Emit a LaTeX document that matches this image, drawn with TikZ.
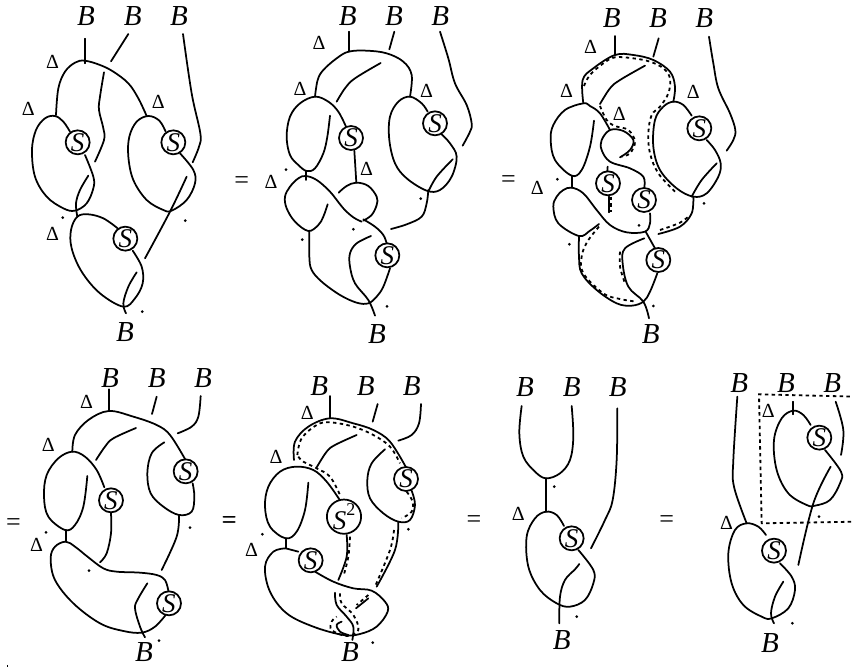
\documentclass[tikz,border=0pt]{standalone}
\usepackage{fontspec}
\setmainfont{Liberation Serif}
\tikzset{
  strandline/.style={line width=1.75pt,line cap=round,line join=round,black},
  dashline/.style={line width=1.8pt,dash pattern=on 3.4pt off 3.4pt,black},
  blab/.style={inner sep=0pt,font=\fontsize{29}{29}\selectfont\itshape},
  dlab/.style={inner sep=0pt,font=\fontsize{20}{20}\selectfont},
  eqlab/.style={inner sep=0pt,font=\fontsize{26}{26}\selectfont},
  antip/.style={circle,draw,line width=1.75pt,fill=white,inner sep=0pt,minimum size=24pt,font=\fontsize{27}{27}\selectfont\itshape},
  dotmark/.style={circle,fill=black,inner sep=0pt,minimum size=3pt},
  panel/.style={x=0.33333pt,y=-0.33333pt}
}
\newcommand\strand[1]{\draw[strandline] plot[smooth,tension=0.6] coordinates {#1};}
\newcommand\dstrand[1]{\draw[dashline] plot[smooth,tension=0.6] coordinates {#1};}
\begin{document}
\begin{tikzpicture}[x=1pt,y=-1pt]
\useasboundingbox (0,0) rectangle (853,668);
% panel 1
\begin{scope}[panel]
\draw[strandline] (254,116) -- (254,190);
\draw[strandline] (385,102) -- (333,184);
\strand{(549,102)(575,280)(601,400)(597,440)(578,487)}
\strand{(168,345)(175,265)(195,215)(225,188)(254,182)(300,195)(340,215)(385,250)(415,295)(440,348)}
\strand{(312,217)(300,290)(297,330)(310,385)(312,420)(285,485)}
\strand{(210,395)(190,365)(165,348)(135,355)(108,390)(96,450)(105,530)(140,590)(190,625)(225,632)(260,610)(280,565)(280,530)(255,465)}
\strand{(265,527)(240,570)(228,610)(232,650)}
\strand{(497,395)(478,362)(445,348)(410,365)(388,410)(385,470)(400,540)(440,600)(490,630)(515,632)(560,600)(585,550)(580,510)(540,460)}
\strand{(560,530)(510,635)(435,775)}
\strand{(353,685)(310,655)(265,643)(232,650)(213,690)(215,745)(245,815)(300,880)(370,920)(405,895)(428,850)(425,800)(398,752)}
\strand{(410,817)(385,860)(370,910)(378,940)}
\node[antip] (a1) at (233,427) {S};
\node[antip] (a2) at (520,427) {S};
\node[antip] (a3) at (376,716) {S};
\node[blab] (a4) at (258,47) {B};
\node[blab] (a5) at (398,47) {B};
\node[blab] (a6) at (537,47) {B};
\node[blab] (a7) at (375,997) {B};
\node[dlab] (a8) at (158,185) {Δ};
\node[dlab] (a9) at (85,327) {Δ};
\node[dlab] (a10) at (475,307) {Δ};
\node[dlab] (a11) at (158,703) {Δ};
\node[dotmark] (a12) at (188,653) {};
\node[dotmark] (a13) at (556,662) {};
\node[dotmark] (a14) at (427,935) {};
\end{scope}
% panel 2
\begin{scope}[panel,shift={(720,0)}]
\draw[strandline] (326,95) -- (326,155);
\draw[strandline] (463,95) -- (448,148);
\strand{(600,95)(625,175)(645,250)(680,315)(695,370)(690,395)(668,437)}
\strand{(225,290)(233,240)(250,210)(290,175)(326,155)(380,152)(440,160)(490,185)(515,225)(510,290)}
\strand{(422,189)(345,235)(315,265)(290,305)}
\strand{(318,380)(295,335)(265,305)(225,290)(180,310)(150,350)(140,410)(150,465)(175,495)(200,513)(225,505)(250,460)(262,410)(270,347)}
\draw[strandline] (197,513) -- (197,540);
\draw[strandline] (343,452) -- (349,548);
\strand{(263,613)(250,650)(235,675)(205,693)(165,665)(140,625)(135,590)(150,560)(175,535)(197,528)(230,540)(270,575)(310,625)(340,652)(365,665)}
\strand{(296,578)(320,558)(349,548)(385,558)(410,590)(410,615)(395,645)(370,662)}
\strand{(370,658)(405,680)(430,705)(440,730)}
\strand{(450,805)(430,860)(410,890)(385,910)(350,908)(300,885)(245,845)(215,810)(208,770)(208,693)}
\strand{(393,708)(350,730)(330,760)(330,800)(345,850)(385,900)(405,947)}
\strand{(453,687)(500,673)(545,650)(560,610)(565,570)}
\strand{(563,335)(545,310)(510,290)(475,305)(450,350)(448,420)(465,490)(500,535)(560,572)(600,570)(635,530)(650,470)(630,430)(605,403)}
\strand{(638,478)(590,530)(565,575)}
\node[antip] (b1) at (333,414) {S};
\node[antip] (b2) at (442,766) {S};
\node[antip] (b3) at (585,370) {S};
\node[blab] (b4) at (323,47) {B};
\node[blab] (b5) at (462,47) {B};
\node[blab] (b6) at (601,47) {B};
\node[blab] (b7) at (411,1003) {B};
\node[dlab] (b8) at (237,128) {Δ};
\node[dlab] (b9) at (180,268) {Δ};
\node[dlab] (b10) at (560,272) {Δ};
\node[dlab] (b11) at (380,508) {Δ};
\node[dlab] (b12) at (93,547) {Δ};
\node[dotmark] (b13) at (138,509) {};
\node[dotmark] (b14) at (187,719) {};
\node[dotmark] (b15) at (340,688) {};
\node[dotmark] (b16) at (542,596) {};
\node[dotmark] (b17) at (441,919) {};
\node[eqlab] (b18) at (5,547) {=};
\end{scope}
% panel 3
\begin{scope}[panel,shift={(1500,0)}]
\draw[strandline] (345,108) -- (345,165);
\draw[strandline] (476,115) -- (460,170);
\strand{(627,110)(640,190)(655,265)(690,340)(706,390)(700,420)(680,452)}
\strand{(250,310)(248,240)(280,205)(345,165)(400,165)(460,180)(510,215)(525,260)(520,305)}
\strand{(435,197)(360,240)(330,265)(300,312)}
\strand{(330,390)(300,340)(270,318)(250,310)(195,330)(160,375)(152,420)(165,480)(215,527)(245,510)(270,440)(282,362)}
\draw[strandline] (215,527) -- (215,563);
\strand{(297,672)(270,692)(237,708)(175,670)(160,620)(170,590)(190,570)(215,563)(250,580)(290,630)(330,675)(380,697)(435,695)(450,670)(450,640)}
\strand{(433,562)(430,530)(390,505)(330,485)(305,450)(305,420)(330,390)(370,393)(400,420)(390,450)(360,472)}
\draw[strandline] (323,500) -- (322,512);
\draw[strandline] (327,590) -- (327,637);
\draw[strandline] (437,695) -- (465,745);
\strand{(472,820)(450,875)(430,905)(395,917)(350,910)(290,870)(245,820)(237,770)(237,708)}
\strand{(433,715)(375,745)(368,790)(385,860)(430,905)(447,955)}
\strand{(475,702)(540,680)(575,640)(580,590)}
\strand{(575,347)(550,315)(520,305)(490,320)(465,360)(460,440)(480,510)(530,565)(580,590)(620,580)(655,530)(662,490)(645,450)(620,420)}
\strand{(650,490)(605,540)(575,590)}
\dstrand{(252,258)(270,225)(310,190)(345,172)(400,175)(450,185)(490,205)(510,235)(505,280)(480,320)(455,345)(445,400)(450,460)(475,520)(525,575)}
\dstrand{(300,318)(320,360)(345,378)(385,390)(405,425)(390,460)(365,470)}
\dstrand{(297,680)(262,725)(245,770)(250,820)(310,880)(360,897)(410,905)}
\dstrand{(360,755)(360,800)(375,850)}
\dstrand{(480,690)(540,668)(570,645)}
\draw[dashline] (333,590) -- (333,637);
\node[antip] (c1) at (324,550) {S};
\node[antip] (c2) at (432,600) {S};
\node[antip] (c3) at (475,780) {S};
\node[antip] (c4) at (598,385) {S};
\node[blab] (c5) at (335,55) {B};
\node[blab] (c6) at (474,55) {B};
\node[blab] (c7) at (613,55) {B};
\node[blab] (c8) at (452,1003) {B};
\node[dlab] (c9) at (272,142) {Δ};
\node[dlab] (c10) at (200,272) {Δ};
\node[dlab] (c11) at (358,343) {Δ};
\node[dlab] (c12) at (580,277) {Δ};
\node[dlab] (c13) at (112,565) {Δ};
\node[dotmark] (c14) at (172,538) {};
\node[dotmark] (c15) at (208,733) {};
\node[dotmark] (c16) at (417,676) {};
\node[dotmark] (c17) at (612,610) {};
\node[dotmark] (c18) at (460,918) {};
\node[eqlab] (c19) at (25,545) {=};
\end{scope}
% panel 4
\begin{scope}[panel,shift={(0,1050)}]
\draw[strandline] (326,118) -- (326,183);
\draw[strandline] (470,140) -- (456,192);
\strand{(602,138)(595,200)(575,230)(533,250)}
\strand{(217,305)(225,255)(265,210)(326,183)(400,200)(470,225)(510,255)(555,327)}
\strand{(408,234)(340,265)(315,290)(288,330)}
\strand{(313,412)(290,360)(255,320)(217,305)(175,325)(140,375)(132,440)(145,500)(195,540)(225,525)(250,470)(262,378)}
\draw[strandline] (197,540) -- (197,575);
\strand{(333,490)(333,550)(320,610)(300,637)}
\strand{(505,722)(495,690)(470,675)(420,668)(350,665)(310,655)(265,622)(225,590)(197,575)(165,590)(152,625)(165,690)(220,760)(300,820)(370,843)(425,848)(465,830)(497,795)}
\strand{(442,700)(415,745)(405,775)(420,830)(435,862)}
\strand{(578,400)(583,440)(575,485)(537,495)(490,470)(452,430)(442,370)(455,310)(493,277)}
\strand{(537,495)(530,560)(485,660)}
\draw[line width=0.7pt] (22,945) -- (22,952);
\node[antip] (d1) at (557,364) {S};
\node[antip] (d2) at (333,451) {S};
\node[antip] (d3) at (507,760) {S};
\node[blab] (d4) at (330,85) {B};
\node[blab] (d5) at (470,85) {B};
\node[blab] (d6) at (609,85) {B};
\node[blab] (d7) at (432,905) {B};
\node[dlab] (d8) at (260,155) {Δ};
\node[dlab] (d9) at (145,285) {Δ};
\node[dlab] (d10) at (110,585) {Δ};
\node[dotmark] (d11) at (138,547) {};
\node[dotmark] (d12) at (267,662) {};
\node[dotmark] (d13) at (570,533) {};
\node[dotmark] (d14) at (477,872) {};
\node[eqlab] (d15) at (40,525) {=};
\node[eqlab] (d16) at (687,518) {=};
\end{scope}
% panel 5
\begin{scope}[panel,shift={(660,1080)}]
\draw[strandline] (330,108) -- (330,175);
\draw[strandline] (473,132) -- (458,185);
\strand{(603,132)(597,190)(575,225)(535,242)}
\strand{(222,300)(225,245)(265,200)(330,175)(400,190)(460,210)(510,245)(557,320)}
\strand{(410,225)(345,255)(320,275)(290,322)}
\strand{(358,418)(320,365)(280,330)(228,320)(180,335)(145,380)(135,440)(150,500)(197,535)(230,515)(255,450)(265,368)}
\draw[strandline] (197,535) -- (197,565);
\draw[strandline] (197,565) -- (235,575);
\strand{(197,565)(160,575)(135,620)(150,695)(200,760)(280,800)(370,825)(420,822)(470,800)(503,755)(495,725)(455,692)(400,685)(340,665)(285,635)}
\strand{(380,525)(380,590)(355,660)}
\strand{(345,698)(350,735)(380,770)(400,800)(397,840)}
\strand{(365,785)(350,795)(360,815)(385,825)}
\draw[strandline] (445,715) -- (408,745);
\strand{(575,392)(585,435)(570,480)(535,485)(490,460)(450,415)(442,360)(455,310)(495,268)}
\strand{(535,485)(525,570)(470,680)}
\dstrand{(232,285)(245,235)(290,195)(330,187)(400,200)(460,225)(510,260)(540,310)}
\dstrand{(235,290)(250,305)(290,325)(330,350)(360,405)}
\dstrand{(560,395)(578,425)(575,455)(545,475)}
\dstrand{(390,530)(385,590)(370,650)}
\dstrand{(522,510)(510,570)(465,680)}
\dstrand{(445,705)(410,735)}
\dstrand{(360,700)(365,730)(400,765)(415,810)(380,828)(335,810)(335,785)(350,770)}
\node[antip] (e1) at (558,357) {S};
\node[antip,minimum size=33pt] (e2) at (372,470) {S\raisebox{1.1ex}{\upshape\fontsize{18}{18}\selectfont 2}};
\node[antip] (e3) at (272,601) {S};
\node[blab] (e4) at (298,78) {B};
\node[blab] (e5) at (437,78) {B};
\node[blab] (e6) at (575,78) {B};
\node[blab] (e7) at (390,877) {B};
\node[dlab] (e8) at (262,158) {Δ};
\node[dlab] (e9) at (168,290) {Δ};
\node[dlab] (e10) at (95,570) {Δ};
\node[dotmark] (e11) at (127,523) {};
\node[dotmark] (e12) at (458,848) {};
\node[dotmark] (e13) at (565,508) {};
\node[eqlab] (e14) at (28,487.5) {=};
\end{scope}
% panels 6 and 7
\begin{scope}[panel,shift={(1380,1080)}]
\strand{(185,138)(178,220)(190,290)(225,335)(258,355)(300,340)(330,300)(340,230)(335,138)}
\draw[strandline] (258,355) -- (258,455);
\strand{(472,145)(470,300)(458,420)(435,480)(393,565)}
\strand{(312,498)(290,465)(258,455)(225,475)(200,530)(205,620)(240,690)(290,730)(330,740)(375,720)(400,670)(400,630)(355,570)}
\strand{(358,612)(345,628)(315,660)(300,710)(298,790)}
\node[antip] (f1) at (335,535) {S};
\node[blab] (f2) at (195,80) {B};
\node[blab] (f3) at (335,80) {B};
\node[blab] (f4) at (473,80) {B};
\node[blab] (f5) at (305,840) {B};
\node[dlab] (f6) at (175,462) {Δ};
\node[dotmark] (f7) at (283,380) {};
\node[dotmark] (f8) at (350,770) {};
\node[eqlab] (f9) at (42,485) {=};
\strand{(832,110)(820,300)(822,380)(860,490)}
\strand{(918,525)(895,500)(860,490)(825,510)(805,580)(815,670)(850,735)(905,770)(935,775)(985,745)(1005,690)(995,650)(960,610)}
\strand{(970,665)(945,710)(933,760)(942,790)}
\draw[strandline] (998,125) -- (998,163);
\strand{(1052,195)(1030,165)(1000,152)(965,175)(942,240)(950,330)(985,400)(1040,435)(1065,437)(1110,420)(1140,370)(1143,335)(1095,270)}
\strand{(1127,125)(1150,210)(1143,285)}
\strand{(1112,320)(1060,430)(1015,615)}
\draw[dashline] (1190,110) -- (897,103) -- (905,490) -- (1190,485);
\node[antip] (f10) at (942,572) {S};
\node[antip] (f11) at (1078,233) {S};
\node[blab] (f12) at (838,70) {B};
\node[blab] (f13) at (978,70) {B};
\node[blab] (f14) at (1117,70) {B};
\node[blab] (f15) at (930,848) {B};
\node[dlab] (f16) at (800,490) {Δ};
\node[dlab] (f17) at (925,152) {Δ};
\node[dotmark] (f18) at (997,790) {};
\node[dotmark] (f19) at (1077,470) {};
\node[eqlab] (f20) at (620,485) {=};
\end{scope}
\end{tikzpicture}
\end{document}
